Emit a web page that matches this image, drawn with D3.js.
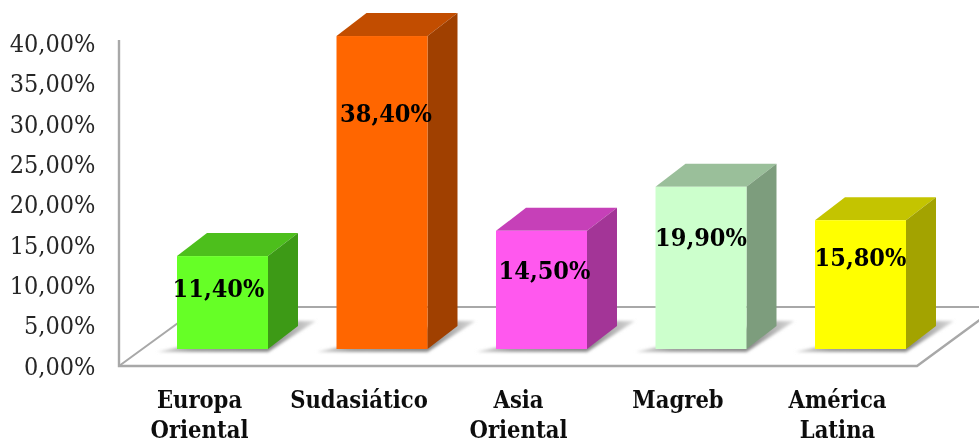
<!DOCTYPE html>
<html><head><meta charset="utf-8">
<script src="https://cdn.jsdelivr.net/npm/d3@7/dist/d3.min.js"></script>
<style>html,body{margin:0;background:#fff}svg{display:block}text{font-family:"DejaVu Serif Condensed","DejaVu Serif",serif}</style>
</head><body><svg id="c" width="979" height="443"></svg>
<script>
const categories = [["Europa","Oriental"],["Sudasiático"],["Asia","Oriental"],["Magreb"],["América","Latina"]];
const values = [11.4,38.4,14.5,19.9,15.8];
const valueLabels = ["11,40%","38,40%","14,50%","19,90%","15,80%"];
const tickValues = [0,5,10,15,20,25,30,35,40];
const tickLabels = ["0,00%","5,00%","10,00%","15,00%","20,00%","25,00%","30,00%","35,00%","40,00%"];
const frontColors = ["#66ff26","#ff6600","#ff59ee","#ccffcc","#ffff00"];
const topColors = ["#4dbf1c","#c24e00","#c640b8","#9abf9a","#c4c400"];
const sideColors = ["#3d9a17","#a03f00","#a33597","#7d9d7d","#a3a300"];

const dx=30, dy=23;
const svg=d3.select("#c");
const defs=svg.append("defs");
defs.append("filter").attr("id","soft").attr("x","-5%").attr("y","-5%").attr("width","110%").attr("height","110%")
  .append("feGaussianBlur").attr("stdDeviation",0.45);
defs.append("filter").attr("id","sh").attr("x","-20%").attr("y","-50%").attr("width","140%").attr("height","200%")
  .append("feGaussianBlur").attr("stdDeviation",1.8);
const grad=defs.append("linearGradient").attr("id","shg");
grad.append("stop").attr("offset","0").attr("stop-color","#d8d8d8");
grad.append("stop").attr("offset","0.22").attr("stop-color","#a0a0a0");
grad.append("stop").attr("offset","0.72").attr("stop-color","#8a8a8a");
grad.append("stop").attr("offset","1").attr("stop-color","#dcdcdc");
const root=svg.append("g").attr("filter","url(#soft)");

const x=d3.scaleBand().domain(d3.range(categories.length)).range([142.75,940.25]).paddingInner(0.4295).paddingOuter(0.21475);
const yBar=d3.scaleLinear().domain([0,40]).range([349,23]);
const yAxis=d3.scaleLinear().domain([0,40]).range([366,40]);
const yLab=d3.scaleLinear().domain([0,40]).range([366,43]);

// floor and axis
const line=d3.line();
const grey="#a8a8a8";
root.append("path").attr("d",line([[119,yAxis(40)],[119,yAxis(0)],[917,yAxis(0)],[985,316]])).attr("fill","none").attr("stroke",grey).attr("stroke-width",2.4);
root.append("path").attr("d",line([[119,366],[200,307],[979,307]])).attr("fill","none").attr("stroke",grey).attr("stroke-width",2);

// y tick labels
root.append("g").selectAll("text").data(tickValues).join("text")
  .attr("x",95.5).attr("y",d=>yLab(d)).attr("dy","0.35em").attr("text-anchor","end")
  .attr("font-size",25).attr("fill","#262626")
  .text((d,i)=>tickLabels[i]);

// bars
const bars=root.append("g").selectAll("g").data(values).join("g");
const bw=x.bandwidth();
bars.append("path").attr("filter","url(#sh)").attr("fill","url(#shg)")
  .attr("d",(d,i)=>{const l=x(i),b=yBar(0);return line([[l-20,b+3],[l+bw,b+3],[l+bw+dx+18,b-dy-5],[l+bw+dx,b-dy-5]])+"Z";});
bars.append("path").attr("fill",(d,i)=>topColors[i])
  .attr("d",(d,i)=>{const l=x(i),t=yBar(d);return line([[l,t],[l+dx,t-dy],[l+bw+dx,t-dy],[l+bw,t]])+"Z";});
bars.append("path").attr("fill",(d,i)=>sideColors[i])
  .attr("d",(d,i)=>{const r=x(i)+bw,t=yBar(d),b=yBar(0);return line([[r,t],[r+dx,t-dy],[r+dx,b-dy],[r,b]])+"Z";});
bars.append("rect").attr("x",(d,i)=>x(i)).attr("y",d=>yBar(d)).attr("width",bw).attr("height",d=>yBar(0)-yBar(d)).attr("fill",(d,i)=>frontColors[i]);

// value labels (hand-placed in the source, so nudged relative to each bar)
const labelNudge=[[-4,32],[4,77],[3,39],[0,50],[0,37]];
root.append("g").selectAll("text").data(values).join("text")
  .attr("x",(d,i)=>x(i)+bw/2+labelNudge[i][0]).attr("y",(d,i)=>yBar(d)+labelNudge[i][1]).attr("dy","0.35em")
  .attr("text-anchor","middle").attr("font-size",25).attr("font-weight",700).attr("fill","#000")
  .text((d,i)=>valueLabels[i]);

// category labels
const cat=root.append("g").selectAll("text").data(categories).join("text")
  .attr("text-anchor","middle").attr("font-size",23.5).attr("font-weight",700).attr("fill","#111");
cat.selectAll("tspan").data((d,i)=>d.map(s=>({s,i}))).join("tspan")
  .attr("x",d=>x(d.i)+bw/2-23).attr("y",(d,j)=>407.5+j*30).text(d=>d.s);
</script></body></html>
